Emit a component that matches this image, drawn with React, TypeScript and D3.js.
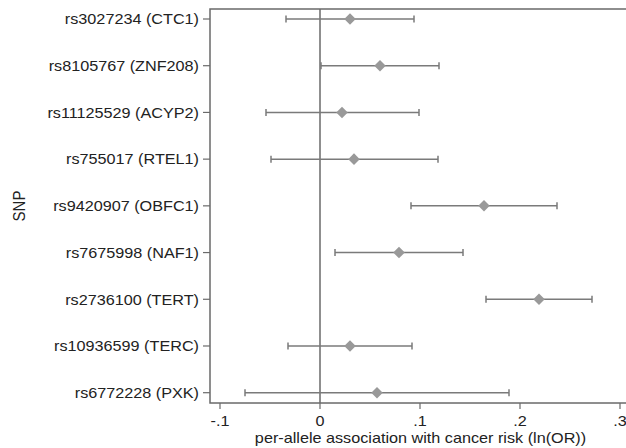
import React from "react";
import * as d3 from "d3";

const snps = [
  "rs3027234 (CTC1)",
  "rs8105767 (ZNF208)",
  "rs11125529 (ACYP2)",
  "rs755017 (RTEL1)",
  "rs9420907 (OBFC1)",
  "rs7675998 (NAF1)",
  "rs2736100 (TERT)",
  "rs10936599 (TERC)",
  "rs6772228 (PXK)",
];
const estimates = [0.03, 0.06, 0.022, 0.034, 0.164, 0.079, 0.219, 0.03, 0.057];
const lower = [-0.034, 0.001, -0.054, -0.049, 0.091, 0.015, 0.166, -0.032, -0.075];
const upper = [0.094, 0.119, 0.099, 0.118, 0.237, 0.143, 0.272, 0.092, 0.189];
const xTicks = [-0.1, 0, 0.1, 0.2, 0.3];
const xTickLabels = ["-.1", "0", ".1", ".2", ".3"];

const W = 626;
const H = 448;
const left = 210;
const top = 9;
const bottom = 403;

export default function App() {
  const x = d3.scaleLinear().domain([-0.1, 0.3]).range([220, 620]);
  const y = d3
    .scalePoint<string>()
    .domain(snps)
    .range([19, 392.7]);
  const axisColor = "#6a6a6a";
  const barColor = "#7a7a7a";
  const textColor = "#222";
  const font = "'Liberation Sans', Arial, Helvetica, sans-serif";
  const fs = 15;
  const sx = 1.08;
  const diamond = d3.symbol().type(d3.symbolDiamond2).size(85)() as string;

  return (
    <svg
      width={W}
      height={H}
      style={{ position: "absolute", left: 0, top: 0, background: "#fff" }}
      fontFamily={font}
    >
      <rect x={0} y={0} width={W} height={H} fill="#fff" />
      {/* frame */}
      <rect
        x={left}
        y={top}
        width={640 - left}
        height={bottom - top}
        fill="none"
        stroke={axisColor}
        strokeWidth={1.5}
      />
      {/* zero line */}
      <line x1={x(0)} x2={x(0)} y1={top} y2={bottom} stroke={axisColor} strokeWidth={1.5} />
      {/* y ticks & labels */}
      {snps.map((s) => (
        <g key={s}>
          <line x1={left - 7} x2={left} y1={y(s)} y2={y(s)} stroke={axisColor} strokeWidth={1.2} />
          <text
            transform={`translate(${left - 11},${(y(s) as number) + 5.3}) scale(${sx},1)`}
            textAnchor="end"
            fontSize={fs}
            fill={textColor}
          >
            {s}
          </text>
        </g>
      ))}
      {/* x ticks */}
      {xTicks.map((t, i) => (
        <g key={t}>
          <line x1={x(t)} x2={x(t)} y1={bottom} y2={bottom + 6} stroke={axisColor} strokeWidth={1.2} />
          <text
            transform={`translate(${x(t)},${bottom + 22.5}) scale(${sx},1)`}
            textAnchor="middle"
            fontSize={fs}
            fill={textColor}
          >
            {xTickLabels[i]}
          </text>
        </g>
      ))}
      {/* error bars */}
      {snps.map((s, i) => {
        const yy = y(s) as number;
        return (
          <g key={"e" + s}>
            <line x1={x(lower[i])} x2={x(upper[i])} y1={yy} y2={yy} stroke={barColor} strokeWidth={1.5} />
            <line x1={x(lower[i])} x2={x(lower[i])} y1={yy - 3.5} y2={yy + 3.5} stroke={barColor} strokeWidth={1.5} />
            <line x1={x(upper[i])} x2={x(upper[i])} y1={yy - 3.5} y2={yy + 3.5} stroke={barColor} strokeWidth={1.5} />
            <path d={diamond} transform={`translate(${x(estimates[i])},${yy})`} fill="#999" />
          </g>
        );
      })}
      {/* axis titles */}
      <text
        transform={`translate(${(252 + 589) / 2},${bottom + 40}) scale(${sx},1)`}
        textAnchor="middle"
        fontSize={fs}
        fill={textColor}
      >
        per-allele association with cancer risk (ln(OR))
      </text>
      <text
        transform={`translate(25,${206}) rotate(-90) scale(1,${sx})`}
        textAnchor="middle"
        fontSize={fs}
        fill={textColor}
      >
        SNP
      </text>
    </svg>
  );
}
